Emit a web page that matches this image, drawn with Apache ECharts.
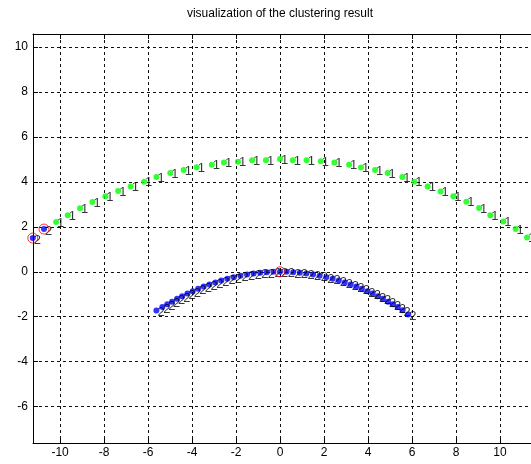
<!DOCTYPE html>
<html>
<head>
<meta charset="utf-8">
<script src="https://cdn.jsdelivr.net/npm/echarts@6/dist/echarts.min.js"></script>
<style>html,body{margin:0;padding:0;background:#fff}#c{width:531px;height:464px}</style>
</head>
<body>
<div id="c"></div>
<script>
// Cluster 1 (green, label "1") on the upper arc
var c1X = [-10.18, -9.65, -9.09, -8.53, -7.94, -7.36, -6.79, -6.18, -5.62, -4.99, -4.38, -3.79, -3.10, -2.55, -1.91, -1.27, -0.64, 0, 0.58, 1.21, 1.85, 2.47, 3.14, 3.68, 4.32, 4.89, 5.56, 6.10, 6.71, 7.30, 7.88, 8.47, 9.05, 9.56, 10.15, 10.71, 11.23];
var c1Y = [2.21, 2.52, 2.83, 3.10, 3.36, 3.59, 3.79, 4.00, 4.22, 4.39, 4.53, 4.65, 4.76, 4.86, 4.90, 4.96, 4.96, 5.02, 4.96, 4.96, 4.92, 4.86, 4.76, 4.64, 4.53, 4.39, 4.22, 4.00, 3.79, 3.57, 3.36, 3.11, 2.84, 2.52, 2.24, 1.90, 1.52];
// Cluster 2 (blue, label "2"): two points on upper arc + lower arc
var c2X = [-11.24, -10.73,
  -5.62, -5.35, -5.13, -4.91, -4.68, -4.45, -4.21, -3.97, -3.72, -3.47, -3.21, -2.94, -2.67, -2.39, -2.10, -1.80, -1.50, -1.20, -0.90, -0.60, -0.30, 0,
  0.30, 0.60, 0.90, 1.20, 1.50, 1.80, 2.10, 2.39, 2.67, 2.94, 3.21, 3.47, 3.72, 3.97, 4.21, 4.45, 4.68, 4.91, 5.13, 5.35, 5.57, 5.83];
var c2Y = [1.50, 1.90,
  -1.72, -1.57, -1.45, -1.33, -1.20, -1.09, -0.97, -0.87, -0.76, -0.66, -0.57, -0.48, -0.39, -0.31, -0.24, -0.18, -0.12, -0.08, -0.04, -0.02, 0.00, 0.00,
  0.00, -0.02, -0.04, -0.08, -0.12, -0.18, -0.24, -0.31, -0.39, -0.48, -0.57, -0.66, -0.76, -0.87, -0.97, -1.09, -1.20, -1.33, -1.45, -1.57, -1.71, -1.90];
// Highlighted points (red circles)
var centerX = [-11.24, -10.73, 0];
var centerY = [1.50, 1.90, 0];
// Tick values
var xTicks = [-10, -8, -6, -4, -2, 0, 2, 4, 6, 8, 10];
var yTicks = [-6, -4, -2, 0, 2, 4, 6, 8, 10];
var titleText = 'visualization of the clustering result';

function zip(a, b) { return a.map(function (v, i) { return [v, b[i]]; }); }

var FONT = 'Liberation Sans, Arial, sans-serif';
var gridLine = { show: true, lineStyle: { color: '#111', type: [3, 3], width: 1 } };
var axisLineS = { show: true, onZero: false, lineStyle: { color: '#000', width: 1 } };

var xBase = {
  type: 'value', min: -11.23, max: 12,
  axisLine: axisLineS,
  axisTick: { show: true, inside: true, length: 5, lineStyle: { color: '#000' }, customValues: xTicks },
  splitLine: { show: false }
};
var yBase = {
  type: 'value', min: -7.62, max: 10.58,
  axisLine: axisLineS,
  axisTick: { show: true, inside: true, length: 5, lineStyle: { color: '#000' }, customValues: yTicks },
  splitLine: { show: false }
};

var chart = echarts.init(document.getElementById('c'), null, { renderer: 'canvas' });
chart.setOption({
  animation: false,
  backgroundColor: '#fff',
  graphic: [{
    type: 'text', x: 280, y: 14,
    style: { text: titleText, textAlign: 'center', textVerticalAlign: 'middle', font: '12px ' + FONT, fill: '#000' }
  }],
  grid: { left: 33, width: 511, top: 34, bottom: 21, containLabel: false, outerBoundsMode: 'none' },
  xAxis: [
    Object.assign({}, xBase, {
      position: 'bottom',
      axisLabel: { show: true, customValues: xTicks, color: '#000', fontSize: 12, fontFamily: FONT, margin: 4 },
      splitLine: Object.assign({ customValues: xTicks }, gridLine)
    }),
    Object.assign({}, xBase, { position: 'top', axisLabel: { show: false } })
  ],
  yAxis: [
    Object.assign({}, yBase, {
      position: 'left',
      axisLabel: { show: true, customValues: yTicks, color: '#000', fontSize: 12, fontFamily: FONT, margin: 5 },
      splitLine: Object.assign({ customValues: yTicks }, gridLine)
    }),
    Object.assign({}, yBase, { position: 'right', axisLabel: { show: false } })
  ],
  series: [
    {
      type: 'scatter', xAxisIndex: 0, yAxisIndex: 0, clip: false,
      data: zip(c1X, c1Y), symbol: 'circle', symbolSize: 6,
      itemStyle: { color: '#00ff00' },
      label: { show: true, formatter: '1', position: 'inside', align: 'left', offset: [1, 1], color: '#000', fontSize: 13, fontFamily: FONT }
    },
    {
      type: 'scatter', xAxisIndex: 0, yAxisIndex: 0, clip: false,
      data: zip(c2X, c2Y), symbol: 'circle', symbolSize: 6,
      itemStyle: { color: '#0000ff' },
      label: { show: true, formatter: '2', position: 'inside', align: 'left', offset: [1, 2], color: '#000', fontSize: 13, fontFamily: FONT }
    },
    {
      type: 'scatter', xAxisIndex: 0, yAxisIndex: 0, clip: false,
      data: zip(centerX, centerY), symbol: 'circle', symbolSize: 10,
      itemStyle: { color: 'rgba(0,0,0,0)', borderColor: '#ff0000', borderWidth: 1 },
      z: 5
    }
  ]
});
</script>
</body>
</html>
